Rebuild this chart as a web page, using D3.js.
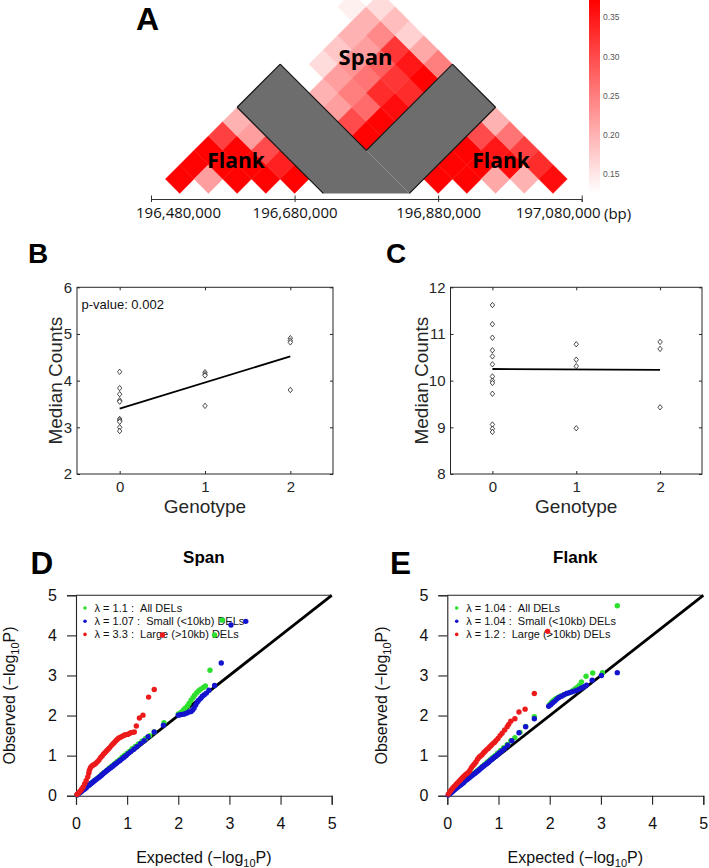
<!DOCTYPE html>
<html><head><meta charset="utf-8">
<script src="https://cdn.jsdelivr.net/npm/d3@7"></script>
<style>body{margin:0;background:#fff}svg{display:block}</style>
</head><body>
<script>
// ---------------- DATA ----------------
// Panel A: 40 kb bins (bin start, bp)
const binStarts = [196500000,196540000,196580000,196620000,196660000,196700000,196740000,196780000,196820000,196860000,196900000,196940000,196980000,197020000];
const binSize = 40000;
const axisTicksA = [196480000,196680000,196880000,197080000];
const colorbarTicks = [0.15,0.20,0.25,0.30,0.35];
const colorDomain = [0.126,0.372];
// LD-like values, rows = bin i, cols = bin j (j>=i)
const flankLeftBins = [0,1,2,3,4];
const flankLeftLD = [
  [0.37,0.37,0.37,0.31,0.20],
  [null,0.22,0.37,0.37,0.22],
  [null,null,0.37,0.37,0.30],
  [null,null,null,0.37,0.34],
  [null,null,null,null,0.37]];
const flankRightBins = [9,10,11,12,13];
const flankRightLD = [
  [0.37,0.37,0.37,0.30,0.20],
  [null,0.37,0.37,0.35,0.26],
  [null,null,0.21,0.36,0.31],
  [null,null,null,0.20,0.33],
  [null,null,null,null,0.36]];
const spanRowBins = [0,1,2,3,4,5];
const spanColBins = [8,9,10,11,12,13];
const spanLD = [
  [null,null,null,null,0.14,null],
  [null,0.16,0.18,0.20,0.20,0.16],
  [0.20,0.22,0.23,0.22,0.24,0.19],
  [0.22,0.25,0.26,0.28,0.32,0.17],
  [0.30,0.27,0.33,0.32,0.35,0.21],
  [0.37,0.37,0.36,0.33,0.37,0.25]];
// grey (deleted) region outline in bin coordinates [i, j]
const greyOutline = [[-0.5,4.5],[-0.5,7.5],[5.5,7.5],[5.5,13.5],[8.5,13.5],[8.5,7.5],[5.5,4.5]];
const greyDarkEdges = [[0,1],[1,2],[6,0],[2,3],[3,4],[4,5]];
const greyFaintEdge = [[5.5,7.5],[8.5,7.5]];

// Panels B, C
const genotypeTicks = [0,1,2];
const spanCountsG0 = [4.19,3.84,3.71,3.58,3.55,3.18,3.15,3.12,3.00,2.92];
const spanCountsG1 = [4.18,4.14,4.11,3.46];
const spanCountsG2 = [4.91,4.86,4.82,3.80];
const spanFit = [3.40,4.52];
const flankCountsG0 = [11.62,11.21,10.92,10.65,10.52,10.35,10.09,10.00,9.95,9.72,9.06,8.97,8.90];
const flankCountsG1 = [10.78,10.45,10.31,8.98];
const flankCountsG2 = [10.83,10.68,9.43];
const flankFit = [10.25,10.23];
const spanTicksY = [2,3,4,5,6];
const flankTicksY = [8,9,10,11,12];

// Panels D, E  ([expected, observed])
const qqTicks = [0,1,2,3,4,5];
const spanAll = [[0.02,0.02],[0.06,0.06],[0.10,0.10],[0.15,0.16],[0.20,0.21],[0.25,0.26],[0.30,0.32],[0.35,0.37],[0.40,0.42],[0.45,0.47],[0.50,0.53],[0.55,0.58],[0.60,0.63],[0.65,0.69],[0.70,0.74],[0.75,0.79],[0.80,0.85],[0.85,0.90],[0.90,0.96],[0.95,1.01],[1.00,1.06],[1.05,1.11],[1.10,1.17],[1.16,1.23],[1.22,1.29],[1.29,1.36],[1.36,1.43],[1.44,1.50],[1.53,1.59],[1.72,1.82],[2.00,2.04],[2.05,2.08],[2.10,2.14],[2.14,2.19],[2.18,2.24],[2.21,2.30],[2.25,2.38],[2.29,2.45],[2.32,2.51],[2.36,2.57],[2.40,2.62],[2.44,2.66],[2.49,2.70],[2.53,2.74],[2.62,3.13],[2.71,4.01],[2.86,4.38]];
const spanSmall = [[0.02,0.02],[0.05,0.05],[0.08,0.08],[0.11,0.11],[0.14,0.14],[0.17,0.17],[0.20,0.20],[0.23,0.24],[0.26,0.27],[0.29,0.30],[0.32,0.33],[0.35,0.36],[0.38,0.39],[0.41,0.42],[0.44,0.45],[0.47,0.48],[0.50,0.51],[0.53,0.55],[0.56,0.58],[0.59,0.61],[0.62,0.64],[0.65,0.67],[0.68,0.70],[0.71,0.73],[0.74,0.76],[0.77,0.79],[0.80,0.82],[0.83,0.85],[0.86,0.88],[0.90,0.92],[0.94,0.96],[0.98,1.00],[1.02,1.05],[1.07,1.10],[1.13,1.16],[1.19,1.22],[1.26,1.30],[1.33,1.37],[1.41,1.47],[1.53,1.59],[1.71,1.76],[2.00,2.01],[2.04,2.02],[2.08,2.03],[2.12,2.04],[2.16,2.06],[2.21,2.09],[2.25,2.10],[2.28,2.14],[2.31,2.19],[2.34,2.26],[2.37,2.33],[2.40,2.38],[2.44,2.43],[2.47,2.48],[2.51,2.52],[2.55,2.56],[2.60,2.63],[2.71,2.75],[2.84,3.31],[3.03,4.26],[3.32,4.35]];
const spanLarge = [[0.02,0.03],[0.05,0.07],[0.08,0.11],[0.11,0.16],[0.14,0.22],[0.17,0.30],[0.20,0.38],[0.23,0.47],[0.25,0.56],[0.26,0.63],[0.28,0.69],[0.30,0.73],[0.33,0.76],[0.36,0.78],[0.39,0.81],[0.42,0.85],[0.45,0.89],[0.48,0.95],[0.51,0.99],[0.54,1.04],[0.57,1.08],[0.60,1.12],[0.63,1.16],[0.66,1.20],[0.69,1.25],[0.72,1.29],[0.75,1.33],[0.78,1.37],[0.81,1.41],[0.84,1.44],[0.87,1.46],[0.90,1.48],[0.94,1.51],[0.97,1.52],[1.01,1.53],[1.04,1.55],[1.07,1.57],[1.11,1.58],[1.14,1.59],[1.18,1.74],[1.24,1.94],[1.31,2.01],[1.42,2.46],[1.53,2.65],[1.69,4.01]];
const flankAll = [[0.03,0.03],[0.08,0.09],[0.13,0.14],[0.18,0.19],[0.23,0.25],[0.28,0.30],[0.33,0.35],[0.38,0.41],[0.43,0.46],[0.48,0.51],[0.53,0.57],[0.58,0.62],[0.63,0.67],[0.68,0.73],[0.73,0.78],[0.78,0.84],[0.83,0.89],[0.88,0.95],[0.93,1.00],[0.98,1.06],[1.04,1.13],[1.10,1.20],[1.17,1.28],[1.24,1.37],[1.32,1.45],[1.42,1.58],[1.53,1.73],[1.70,1.97],[2.00,2.28],[2.04,2.34],[2.08,2.38],[2.12,2.42],[2.17,2.46],[2.22,2.49],[2.28,2.52],[2.34,2.55],[2.40,2.58],[2.46,2.63],[2.50,2.67],[2.54,2.71],[2.58,2.76],[2.62,2.84],[2.71,2.98],[2.84,3.06],[3.03,3.07],[3.32,4.74]];
const flankSmall = [[0.02,0.02],[0.05,0.05],[0.08,0.08],[0.11,0.11],[0.14,0.15],[0.17,0.18],[0.20,0.21],[0.23,0.24],[0.26,0.27],[0.29,0.30],[0.32,0.33],[0.35,0.37],[0.38,0.40],[0.41,0.43],[0.44,0.46],[0.47,0.49],[0.50,0.52],[0.53,0.55],[0.56,0.58],[0.59,0.61],[0.62,0.64],[0.65,0.68],[0.68,0.71],[0.71,0.74],[0.74,0.77],[0.77,0.80],[0.80,0.83],[0.83,0.87],[0.86,0.90],[0.90,0.94],[0.94,0.98],[0.98,1.02],[1.02,1.07],[1.07,1.12],[1.12,1.18],[1.18,1.26],[1.26,1.37],[1.40,1.57],[1.53,1.72],[1.70,1.92],[1.98,2.23],[2.02,2.27],[2.06,2.32],[2.10,2.36],[2.14,2.41],[2.18,2.45],[2.23,2.48],[2.28,2.52],[2.33,2.55],[2.38,2.57],[2.43,2.59],[2.48,2.61],[2.53,2.63],[2.58,2.66],[2.62,2.69],[2.67,2.72],[2.72,2.76],[2.83,2.88],[3.01,3.00],[3.32,3.07]];
const flankLarge = [[0.02,0.04],[0.05,0.10],[0.08,0.15],[0.11,0.20],[0.14,0.24],[0.17,0.28],[0.20,0.32],[0.23,0.36],[0.26,0.40],[0.29,0.44],[0.32,0.48],[0.35,0.52],[0.38,0.55],[0.41,0.58],[0.44,0.63],[0.47,0.70],[0.50,0.75],[0.53,0.79],[0.56,0.84],[0.59,0.91],[0.62,0.96],[0.65,0.99],[0.68,1.02],[0.71,1.07],[0.74,1.11],[0.77,1.15],[0.80,1.18],[0.83,1.22],[0.86,1.26],[0.89,1.30],[0.92,1.33],[0.95,1.37],[0.99,1.43],[1.03,1.50],[1.07,1.56],[1.12,1.64],[1.17,1.72],[1.20,1.78],[1.24,1.86],[1.32,1.92],[1.40,2.09],[1.52,2.16],[1.70,2.55],[1.96,4.10]];
const spanLegend = ["1.1 :\u00a0 All DELs","1.07 :\u00a0 Small (<10kb) DELs","3.3 :\u00a0 Large (>10kb) DELs"];
const flankLegend = ["1.04 :\u00a0 All DELs","1.04 :\u00a0 Small (<10kb) DELs","1.2 :\u00a0 Large (>10kb) DELs"];
const seriesColors = ["#2ee02e","#1414cf","#ec1a1a"];

// ---------------- DRAW ----------------
const W = 709, H = 868;
const svg = d3.select("body").append("svg").attr("width",W).attr("height",H);
const HEL = "'Liberation Sans', Arial, sans-serif";
const CAL = "'Open Sans', sans-serif";

// ===== Panel A =====
const xA = d3.scaleLinear().domain([axisTicksA[0], axisTicksA[3]]).range([151,581.7]);
const w = xA(binStarts[0]+binSize) - xA(binStarts[0]);
const hh = w/2;
const tipY = 193.4;
const col = d3.scaleLinear().domain(colorDomain).range(["#ffffff","#ff0000"]).clamp(true);
function pt(a,b){ // continuous bin coordinates -> pixel
  const x = xA(binStarts[0]) + (a+b+1)/2*w;
  const y = tipY - hh - (b-a)*hh;
  return [x,y];
}
const gA = svg.append("g");
function drawCells(rows, cols, M){
  M.forEach((r,ri)=>r.forEach((v,ci)=>{
    if(v==null) return;
    const i = rows[ri], j = cols[ci];
    const cx = (xA(binStarts[i]) + xA(binStarts[j]+binSize))/2;
    const cy = tipY - hh - (j-i)*hh;
    gA.append("path")
      .attr("d",`M${cx},${cy-hh}L${cx+hh},${cy}L${cx},${cy+hh}L${cx-hh},${cy}Z`)
      .attr("fill",col(v)).attr("stroke",col(v)).attr("stroke-width",0.4);
  }));
}
drawCells(flankLeftBins, flankLeftBins, flankLeftLD);
drawCells(flankRightBins, flankRightBins, flankRightLD);
drawCells(spanRowBins, spanColBins, spanLD);
// grey region (single polygon)
const line = d3.line();
const greyPts = greyOutline.map(p=>pt(p[0],p[1]));
gA.append("path").attr("d",line(greyPts)+"Z").attr("fill","#6d6d6d");
gA.append("path").attr("d",line(greyFaintEdge.map(p=>pt(p[0],p[1])))).attr("stroke","#a0a0a0").attr("stroke-width",0.6);
greyDarkEdges.forEach(e=>gA.append("path").attr("d",line([greyPts[e[0]],greyPts[e[1]]]))
  .attr("stroke","#111").attr("stroke-width",1.1).attr("fill","none"));
// region labels
gA.append("text").attr("x",365.5).attr("y",65).attr("text-anchor","middle").attr("font-family",CAL).attr("font-weight",700).attr("font-size",22).text("Span");
gA.append("text").attr("x",236).attr("y",168).attr("text-anchor","middle").attr("font-family",CAL).attr("font-weight",700).attr("font-size",21).text("Flank");
gA.append("text").attr("x",501).attr("y",168).attr("text-anchor","middle").attr("font-family",CAL).attr("font-weight",700).attr("font-size",21).text("Flank");
// axis
const axA = svg.append("g").attr("transform","translate(0,199)")
  .call(d3.axisBottom(xA).tickValues(axisTicksA).tickSize(3).tickFormat(d3.format(",")));
axA.select(".domain").attr("stroke","#333");
axA.selectAll(".tick line").attr("stroke","#333").attr("y1",-3.5).attr("y2",3);
axA.selectAll(".tick text").attr("font-family",CAL).attr("font-size",15).attr("fill","#111").attr("y",8).attr("dy","0.75em");
axA.selectAll(".tick text").filter((d,i)=>i===0).attr("dx",27);
axA.selectAll(".tick text").filter((d,i)=>i===3).attr("dx",-24);
svg.append("text").attr("x",604).attr("y",219).attr("font-family",CAL).attr("font-size",15).attr("fill","#111").text("(bp)");
svg.append("text").attr("x",136).attr("y",30).attr("font-family",HEL).attr("font-weight",700).attr("font-size",32).text("A");
// colorbar
const cb = d3.scaleLinear().domain(colorDomain).range([193,0]);
const defs = svg.append("defs");
const grad = defs.append("linearGradient").attr("id","cbg").attr("x1",0).attr("y1",1).attr("x2",0).attr("y2",0);
grad.append("stop").attr("offset","0%").attr("stop-color","#ffffff");
grad.append("stop").attr("offset","100%").attr("stop-color","#ff0000");
svg.append("rect").attr("x",589).attr("y",cb(colorDomain[1])).attr("width",11).attr("height",cb(colorDomain[0])-cb(colorDomain[1])).attr("fill","url(#cbg)");
const axCb = svg.append("g").attr("transform","translate(600,0)").call(d3.axisRight(cb).tickValues(colorbarTicks).tickSize(0).tickPadding(3).tickFormat(d3.format(".2f")));
axCb.select(".domain").remove();
axCb.selectAll("text").attr("font-family",HEL).attr("font-size",8.5).attr("fill","#555");

// ===== Panels B, C =====
function scatterPanel(x0,x1,yDom,ticksY,groups,fit,label,labelX,ylabX,pval){
  const x = d3.scaleLinear().domain([-0.5,2.5]).range([x0,x1]);
  const y = d3.scaleLinear().domain(yDom).range([474,287.3]);
  const g = svg.append("g");
  const tc = "#262626";
  const axs = [
    g.append("g").attr("transform",`translate(${x0},0)`).call(d3.axisLeft(y).tickValues(ticksY).tickSize(-3).tickPadding(5).tickFormat(d3.format("d"))),
    g.append("g").attr("transform",`translate(${x1},0)`).call(d3.axisRight(y).tickValues(ticksY).tickSize(-3).tickFormat("")),
    g.append("g").attr("transform",`translate(0,474)`).call(d3.axisBottom(x).tickValues(genotypeTicks).tickSize(-3).tickPadding(7).tickFormat(d3.format("d"))),
    g.append("g").attr("transform",`translate(0,287.3)`).call(d3.axisTop(x).tickValues(genotypeTicks).tickSize(-3).tickFormat(""))];
  axs.forEach(a=>{a.select(".domain").remove();a.selectAll("line").attr("stroke",tc);
    a.selectAll("text").attr("font-family",HEL).attr("font-size",15).attr("fill",tc);});
  g.append("rect").attr("x",x0).attr("y",287.3).attr("width",x1-x0).attr("height",474-287.3).attr("fill","none").attr("stroke",tc).attr("stroke-width",1);
  g.append("line").attr("x1",x(genotypeTicks[0])).attr("x2",x(genotypeTicks[2])).attr("y1",y(fit[0])).attr("y2",y(fit[1])).attr("stroke","#000").attr("stroke-width",1.8);
  groups.forEach((vals,gi)=>vals.forEach(v=>{
    g.append("path").attr("transform",`translate(${x(genotypeTicks[gi])},${y(v)})`)
      .attr("d","M0,-2.7L2.2,0L0,2.7L-2.2,0Z").attr("fill","#fff").attr("stroke","#000").attr("stroke-width",0.7);
  }));
  g.append("text").attr("x",(x0+x1)/2).attr("y",513).attr("text-anchor","middle").attr("font-family",HEL).attr("font-size",19).attr("fill",tc).text("Genotype");
  g.append("text").attr("transform",`translate(${ylabX},${(287.3+474)/2}) rotate(-90)`).attr("text-anchor","middle").attr("font-family",HEL).attr("font-size",19).attr("fill",tc).text("Median Counts");
  g.append("text").attr("x",labelX).attr("y",263).attr("font-family",HEL).attr("font-weight",700).attr("font-size",28).text(label);
  if(pval) g.append("text").attr("x",x0+4.5).attr("y",309).attr("font-family",HEL).attr("font-size",13).attr("fill","#111").text(pval);
}
scatterPanel(77,333,[2,6],spanTicksY,[spanCountsG0,spanCountsG1,spanCountsG2],spanFit,"B",28,61.5,"p-value: 0.002");
scatterPanel(450.5,702,[8,12],flankTicksY,[flankCountsG0,flankCountsG1,flankCountsG2],flankFit,"C",386,428,null);

// ===== Panels D, E =====
function qqPanel(x0,x1,series,legend,title,label,labelX,ylabX,legX){
  const x = d3.scaleLinear().domain([0,5]).range([x0,x1]);
  const y = d3.scaleLinear().domain([0,5]).range([795.7,595.3]);
  const g = svg.append("g");
  const ax1 = g.append("g").attr("transform",`translate(${x0},0)`).call(d3.axisLeft(y).tickValues(qqTicks).tickSize(9).tickPadding(10).tickFormat(d3.format("d")));
  const ax2 = g.append("g").attr("transform",`translate(0,795.7)`).call(d3.axisBottom(x).tickValues(qqTicks).tickSize(9).tickPadding(13).tickFormat(d3.format("d")));
  [ax1,ax2].forEach(a=>{a.selectAll("path,line").attr("stroke","#222").attr("stroke-width",1.1);
    a.selectAll("text").attr("font-family",HEL).attr("font-size",16).attr("fill","#111");});
  g.append("line").attr("x1",x0).attr("x2",x1).attr("y1",y(5)).attr("y2",y(5)).attr("stroke","#222").attr("stroke-width",1.1);
  g.append("line").attr("x1",x(0)).attr("y1",y(0)).attr("x2",x(5)).attr("y2",y(5)).attr("stroke","#000").attr("stroke-width",2.8);
  // legend
  legend.forEach((t,i)=>{
    const yy = 608 + i*13.2;
    g.append("circle").attr("cx",legX).attr("cy",yy).attr("r",1.8).attr("fill",seriesColors[i]);
    g.append("text").attr("x",legX+9.5).attr("y",yy+3.8).attr("font-family",HEL).attr("font-size",11).attr("fill","#111")
      .text("\u03bb\u00a0=\u00a0"+t);
  });
  series.forEach((s,si)=>s.forEach(p=>{
    g.append("circle").attr("cx",x(p[0])).attr("cy",y(p[1])).attr("r",2.7).attr("fill",seriesColors[si]);
  }));
  g.append("text").attr("x",(x0+x1)/2).attr("y",563).attr("text-anchor","middle").attr("font-family",HEL).attr("font-weight",700).attr("font-size",17).text(title);
  g.append("text").attr("x",labelX).attr("y",574).attr("font-family",HEL).attr("font-weight",700).attr("font-size",31.5).text(label);
  const xt = g.append("text").attr("x",(x0+x1)/2).attr("y",863).attr("text-anchor","middle").attr("font-family",HEL).attr("font-size",16).attr("fill","#111");
  xt.append("tspan").text("Expected (\u2212log");
  xt.append("tspan").attr("font-size",11).attr("dy",4).text("10");
  xt.append("tspan").attr("dy",-4).text("P)");
  const yt = g.append("text").attr("transform",`translate(${ylabX},${(595.3+795.7)/2}) rotate(-90)`).attr("text-anchor","middle").attr("font-family",HEL).attr("font-size",16).attr("fill","#111");
  yt.append("tspan").text("Observed (\u2212log");
  yt.append("tspan").attr("font-size",11).attr("dy",4).text("10");
  yt.append("tspan").attr("dy",-4).text("P)");
}
qqPanel(76,331.7,[spanAll,spanSmall,spanLarge],spanLegend,"Span","D",30.5,15,85);
qqPanel(447.3,703.3,[flankAll,flankSmall,flankLarge],flankLegend,"Flank","E",390,386.5,456.7);
</script>
</body></html>
